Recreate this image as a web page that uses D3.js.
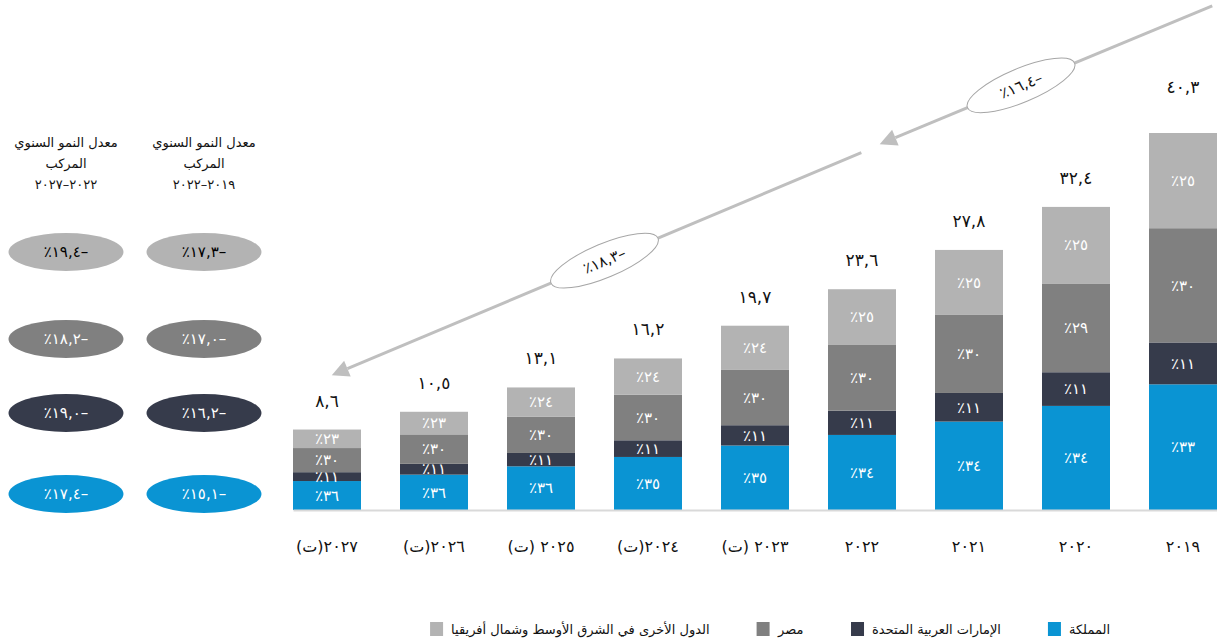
<!DOCTYPE html>
<html>
<head>
<meta charset="utf-8">
<script src="https://cdn.jsdelivr.net/npm/d3@7"></script>
<style>
  body { margin: 0; background: #fff; }
  svg { display: block; font-family: 'DejaVu Sans', 'Noto Sans', sans-serif; }
</style>
</head>
<body>
<div class="container"></div>
<script>
// years, right to left on the chart (2019 is the rightmost bar)
const years = ['٢٠١٩', '٢٠٢٠', '٢٠٢١', '٢٠٢٢', '٢٠٢٣ (ت)', '٢٠٢٤(ت)', '٢٠٢٥ (ت)', '٢٠٢٦(ت)', '٢٠٢٧(ت)'];
const totals = [40.3, 32.4, 27.8, 23.6, 19.7, 16.2, 13.1, 10.5, 8.6];

// shares in percent, bottom to top
const ksa   = [33, 34, 34, 34, 35, 35, 36, 36, 36];
const uae   = [11, 11, 11, 11, 11, 11, 11, 11, 11];
const egypt = [30, 29, 30, 30, 30, 30, 30, 30, 30];
const other = [25, 25, 25, 25, 24, 24, 24, 23, 23];

const seriesNames = ['المملكة', 'الإمارات العربية المتحدة', 'مصر', 'الدول الأخرى في الشرق الأوسط وشمال أفريقيا'];

// compound annual growth, per series (bottom row = KSA)
const cagr1922 = [-15.1, -16.2, -17.0, -17.3];
const cagr2227 = [-17.4, -19.0, -18.2, -19.4];
const headerLines = ['معدل النمو السنوي', 'المركب'];
const periods = ['٢٠١٩–٢٠٢٢', '٢٠٢٢–٢٠٢٧'];

const trendLabels = [-16.4, -18.3];

const colors = ['#0a94d3', '#363b4b', '#808080', '#b3b3b3'];
const textColors = ['#fff', '#fff', '#fff', '#000'];

const arDigits = '٠١٢٣٤٥٦٧٨٩';
function toAr(s) {
  return String(s).replace(/[0-9]/g, c => arDigits[+c]).replace('.', ',');
}
function pct(v) { return toAr(v) + '٪'; }
function growth(v) { return '–' + toAr(Math.abs(v).toFixed(1)) + '٪'; }

const w = 1217, h = 643;

const svg = d3.select('.container')
  .append('svg')
  .attr('width', w)
  .attr('height', h);

const x = d3.scaleBand()
  .domain(years.slice().reverse())
  .range([293, 1217])
  .paddingInner(0.3645);

const y = d3.scaleLinear()
  .domain([0, d3.max(totals)])
  .range([510, 133]);

const bw = x.bandwidth();

// stacked segments
const segs = [];
years.forEach((yr, i) => {
  const shares = [ksa[i], uae[i], egypt[i], other[i]];
  const sum = d3.sum(shares);
  let c = 0;
  shares.forEach((s, k) => {
    const v0 = totals[i] * c / sum;
    c += s;
    const v1 = totals[i] * c / sum;
    segs.push({ yr, k, s, v0, v1 });
  });
});

svg.selectAll('rect.seg')
  .data(segs)
  .enter()
  .append('rect')
  .attr('class', 'seg')
  .attr('x', d => x(d.yr))
  .attr('width', bw)
  .attr('y', d => y(d.v1))
  .attr('height', d => y(d.v0) - y(d.v1))
  .attr('fill', d => colors[d.k]);

svg.selectAll('text.seg')
  .data(segs)
  .enter()
  .append('text')
  .attr('class', 'seg')
  .attr('x', d => x(d.yr) + bw / 2)
  .attr('y', d => (y(d.v0) + y(d.v1)) / 2)
  .attr('dy', '0.35em')
  .attr('text-anchor', 'middle')
  .attr('direction', 'rtl')
  .attr('font-size', 15)
  .attr('fill', '#fff')
  .text(d => pct(d.s));

// totals
svg.selectAll('text.total')
  .data(years)
  .enter()
  .append('text')
  .attr('class', 'total')
  .attr('x', d => x(d) + bw / 2)
  .attr('y', (d, i) => y(totals[i]) - (i === 0 ? 40 : 23))
  .attr('text-anchor', 'middle')
  .attr('font-size', 17)
  .attr('letter-spacing', 3)
  .attr('fill', '#111')
  .text((d, i) => toAr(totals[i]));

// axis
const xAxis = d3.axisBottom(x).tickSize(0).tickPadding(31);
const gx = svg.append('g')
  .attr('transform', `translate(0, ${y(0)})`)
  .call(xAxis);
gx.select('.domain').attr('stroke', '#d9d9d9').attr('stroke-width', 2);
gx.selectAll('text')
  .attr('font-size', 16)
  .attr('font-family', "'DejaVu Sans', sans-serif")
  .attr('fill', '#111')
  .attr('direction', 'rtl');

// trend arrows
function px(cat, f) { return x(cat) + f * bw; }
const trends = [
  { from: [px('٢٠١٩', 0.93), y(53.9)], to: [px('٢٠٢٢', 0.76), y(39.1)], t: 0.575, label: trendLabels[0] },
  { from: [px('٢٠٢٢', 0.49), y(38.2)], to: [px('٢٠٢٧(ت)', 0.57), y(14.4)], t: 0.485, label: trendLabels[1] }
];

trends.forEach(tr => {
  const [x0, y0] = tr.from, [x1, y1] = tr.to;
  const dx = x1 - x0, dy = y1 - y0, len = Math.hypot(dx, dy);
  const ux = dx / len, uy = dy / len;
  const hl = 17, hw = 8.5;
  const bx = x1 - ux * hl, by = y1 - uy * hl;
  svg.append('line')
    .attr('x1', x0).attr('y1', y0)
    .attr('x2', bx).attr('y2', by)
    .attr('stroke', '#bfbfbf').attr('stroke-width', 3);
  svg.append('polygon')
    .attr('points', [[x1, y1], [bx - uy * hw, by + ux * hw], [bx + uy * hw, by - ux * hw]].join(' '))
    .attr('fill', '#bfbfbf');
  const cx = x0 + dx * tr.t, cy = y0 + dy * tr.t;
  const ang = Math.atan2(dy, dx) * 180 / Math.PI + 180;
  const g = svg.append('g').attr('transform', `translate(${cx},${cy}) rotate(${ang})`);
  g.append('ellipse').attr('rx', 58).attr('ry', 17)
    .attr('fill', '#fff').attr('stroke', '#a6a6a6').attr('stroke-width', 1);
  g.append('text')
    .attr('text-anchor', 'middle').attr('dy', '0.35em')
    .attr('direction', 'rtl')
    .attr('font-size', 15).attr('fill', '#111')
    .text(growth(tr.label));
});

// left panel: CAGR ellipses
const colX = [204, 66];
const rowY = [494, 413, 339, 252];
const cols = [cagr1922, cagr2227];

cols.forEach((vals, c) => {
  const head = svg.append('text')
    .attr('x', colX[c]).attr('y', 147)
    .attr('text-anchor', 'middle')
    .attr('font-size', 13).attr('fill', '#111');
  headerLines.concat([periods[c]]).forEach((line, j) => {
    head.append('tspan')
      .attr('x', colX[c])
      .attr('dy', j === 0 ? 0 : 21)
      .attr('direction', 'rtl')
      .text(line);
  });

  vals.forEach((v, k) => {
    svg.append('ellipse')
      .attr('cx', colX[c]).attr('cy', rowY[k])
      .attr('rx', 57.5).attr('ry', 19)
      .attr('fill', colors[k]);
    svg.append('text')
      .attr('x', colX[c]).attr('y', rowY[k])
      .attr('dy', '0.35em')
      .attr('text-anchor', 'middle')
      .attr('direction', 'rtl')
      .attr('font-size', 15)
      .attr('fill', textColors[k])
      .text(growth(v));
  });
});

// legend, laid out right to left
let right = 1110;
seriesNames.forEach((name, k) => {
  const t = svg.append('text')
    .attr('y', 629).attr('dy', '0.35em')
    .attr('text-anchor', 'middle')
    .attr('direction', 'rtl')
    .attr('font-size', 13).attr('fill', '#111')
    .text(name);
  const tw = t.node().getBBox().width;
  t.attr('x', right - tw / 2);
  const sx = right - tw - 8 - 13;
  svg.append('rect')
    .attr('x', sx).attr('y', 622)
    .attr('width', 13).attr('height', 14)
    .attr('fill', colors[k]);
  right = sx - 47;
});
</script>
</body>
</html>
